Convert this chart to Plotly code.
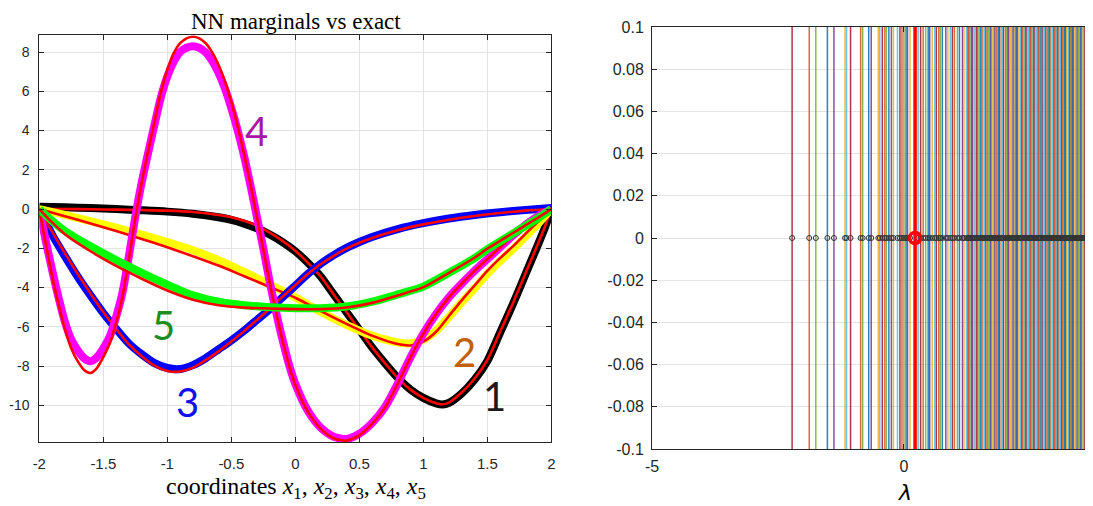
import plotly.graph_objects as go

# ---------------- left panel data ----------------
x1 = [-2.0, -1.8, -1.6, -1.4, -1.2, -1.0, -0.8, -0.6, -0.5, -0.4, -0.3, -0.2, -0.1, 0.0, 0.1, 0.2, 0.3, 0.4, 0.5,
      0.6, 0.7, 0.8, 0.9, 1.0, 1.1, 1.15, 1.2, 1.3, 1.4, 1.5, 1.6, 1.7, 1.8, 1.9, 1.95, 2.0]
nn1 = [0.12, 0.09, 0.05, 0.0, -0.06, -0.13, -0.24, -0.42, -0.55, -0.74, -0.98, -1.3, -1.68, -2.15, -2.75, -3.45,
       -4.35, -5.25, -6.15, -7.05, -7.85, -8.6, -9.2, -9.62, -9.9, -9.96, -9.88, -9.4, -8.7, -7.75, -6.3, -4.85,
       -3.3, -1.75, -0.95, 0.0]
ex1 = [0.0, 0.0, -0.01, -0.03, -0.05, -0.08, -0.15, -0.3, -0.42, -0.6, -0.85, -1.2, -1.62, -2.12, -2.75, -3.45,
       -4.35, -5.25, -6.15, -7.05, -7.85, -8.6, -9.2, -9.62, -9.9, -9.95, -9.86, -9.35, -8.65, -7.7, -6.25, -4.8,
       -3.25, -1.7, -0.9, 0.0]

x2 = [-2.0, -1.8, -1.6, -1.4, -1.2, -1.0, -0.8, -0.6, -0.4, -0.2, 0.0, 0.2, 0.4, 0.6, 0.8, 0.9, 1.0, 1.1, 1.2,
      1.3, 1.4, 1.5, 1.6, 1.7, 1.8, 1.9, 2.0]
nn2 = [0.0, -0.3, -0.62, -0.95, -1.3, -1.68, -2.1, -2.6, -3.2, -3.85, -4.5, -5.25, -5.9, -6.45, -6.8, -6.85, -6.65,
       -6.2, -5.5, -4.75, -4.05, -3.3, -2.65, -2.05, -1.4, -0.72, 0.0]
ex2 = [0.0, -0.36, -0.74, -1.12, -1.52, -1.95, -2.4, -2.88, -3.42, -3.97, -4.52, -5.2, -5.85, -6.45, -6.88, -6.95,
       -6.75, -6.25, -5.45, -4.65, -3.9, -3.15, -2.5, -1.9, -1.25, -0.62, 0.0]

x3 = [-2.0, -1.9, -1.8, -1.7, -1.6, -1.5, -1.4, -1.3, -1.2, -1.1, -1.0, -0.9, -0.8, -0.7, -0.6, -0.5, -0.4, -0.3,
      -0.2, -0.1, 0.0, 0.1, 0.2, 0.3, 0.4, 0.5, 0.6, 0.8, 1.0, 1.2, 1.4, 1.6, 1.8, 2.0]
nn3 = [0.0, -1.3, -2.4, -3.45, -4.4, -5.3, -6.1, -6.85, -7.4, -7.85, -8.1, -8.15, -7.95, -7.6, -7.15, -6.7, -6.2,
       -5.65, -5.1, -4.5, -3.9, -3.3, -2.78, -2.35, -1.98, -1.68, -1.42, -1.02, -0.72, -0.48, -0.3, -0.16, -0.05, 0.05]
ex3 = [0.0, -1.15, -2.25, -3.3, -4.3, -5.25, -6.1, -6.9, -7.5, -7.98, -8.25, -8.28, -8.08, -7.7, -7.25, -6.75,
       -6.22, -5.65, -5.08, -4.47, -3.88, -3.3, -2.8, -2.38, -2.02, -1.72, -1.47, -1.08, -0.78, -0.54, -0.35, -0.2,
       -0.08, 0.0]

x4 = [-2.0, -1.95, -1.9, -1.85, -1.8, -1.75, -1.7, -1.65, -1.6, -1.55, -1.5, -1.45, -1.4, -1.35, -1.3, -1.25, -1.2,
      -1.15, -1.1, -1.05, -1.0, -0.95, -0.9, -0.85, -0.8, -0.75, -0.7, -0.65, -0.6, -0.55, -0.5, -0.45, -0.4, -0.35,
      -0.3, -0.25, -0.2, -0.15, -0.1, -0.05, 0.0, 0.1, 0.2, 0.3, 0.4, 0.5, 0.6, 0.7, 0.8, 0.9, 1.0, 1.1, 1.2, 1.3,
      1.4, 1.5, 1.6, 1.7, 1.8, 1.9, 2.0]
nn4 = [0.0, -1.6, -3.1, -4.5, -5.75, -6.65, -7.2, -7.6, -7.75, -7.55, -7.1, -6.5, -5.5, -4.25, -2.4, -0.4, 1.35,
       2.85, 4.3, 5.7, 6.75, 7.5, 8.0, 8.22, 8.3, 8.22, 7.98, 7.55, 6.95, 6.15, 5.15, 4.0, 2.7, 1.2, -0.4, -2.0,
       -3.7, -5.25, -6.65, -7.9, -8.9, -10.3, -11.15, -11.6, -11.72, -11.45, -10.9, -10.1, -8.9, -7.55, -6.35, -5.35,
       -4.5, -3.8, -3.15, -2.55, -1.95, -1.35, -0.8, -0.35, 0.0]
ex4 = [0.0, -1.75, -3.4, -4.85, -6.1, -7.1, -7.75, -8.2, -8.35, -8.1, -7.55, -6.85, -5.8, -4.45, -2.55, -0.45, 1.35,
       2.95, 4.45, 5.95, 7.1, 7.95, 8.45, 8.7, 8.78, 8.7, 8.45, 8.0, 7.35, 6.5, 5.45, 4.2, 2.8, 1.25, -0.4, -2.05,
       -3.75, -5.3, -6.7, -7.95, -8.95, -10.35, -11.2, -11.68, -11.8, -11.52, -10.95, -10.12, -8.9, -7.55, -6.35,
       -5.35, -4.5, -3.8, -3.15, -2.55, -1.95, -1.35, -0.8, -0.35, 0.0]

x5 = [-2.0, -1.9, -1.8, -1.6, -1.4, -1.2, -1.0, -0.8, -0.6, -0.4, -0.2, 0.0, 0.2, 0.4, 0.6, 0.8, 1.0, 1.2, 1.4,
      1.5, 1.6, 1.7, 1.8, 1.9, 2.0]
nn5 = [0.0, -0.6, -1.12, -1.9, -2.6, -3.25, -3.85, -4.4, -4.72, -4.9, -5.0, -5.05, -5.05, -4.97, -4.72, -4.35, -3.95,
       -3.25, -2.5, -2.05, -1.65, -1.25, -0.85, -0.45, 0.0]
ex5 = [0.0, -0.68, -1.28, -2.15, -2.9, -3.55, -4.15, -4.62, -4.9, -5.02, -5.07, -5.1, -5.1, -5.02, -4.78, -4.4,
       -3.98, -3.25, -2.48, -2.02, -1.62, -1.22, -0.82, -0.42, 0.0]

curve_labels = ["1", "2", "3", "4", "5"]
label_x = [1.56, 1.32, -0.84, -0.30, -1.03]
label_y = [-9.55, -7.3, -9.85, 4.0, -5.9]

x_ticks = [-2, -1.5, -1, -0.5, 0, 0.5, 1, 1.5, 2]
x_tick_text = ["-2", "-1.5", "-1", "-0.5", "0", "0.5", "1", "1.5", "2"]
y_ticks = [-10, -8, -6, -4, -2, 0, 2, 4, 6, 8]
y_tick_text = ["-10", "-8", "-6", "-4", "-2", "0", "2", "4", "6", "8"]

# ---------------- right panel data ----------------
lam = [-2.22, -1.88, -1.75, -1.52, -1.39, -1.17, -1.14, -1.06, -0.86, -0.82, -0.70, -0.65, -0.51, -0.48, -0.43,
       -0.38, -0.35, -0.30, -0.25, -0.21, -0.13, -0.08, -0.04, 0.00, 0.04, 0.07, 0.12, 0.28, 0.33, 0.38, 0.43,
       0.48, 0.51, 0.56, 0.61, 0.64, 0.69, 0.72, 0.76, 0.83, 0.87, 0.92, 0.96, 1.00, 1.06, 1.10, 1.16, 1.19, 1.24,
       1.27, 1.29, 1.31, 1.34, 1.36, 1.39, 1.41, 1.44, 1.46, 1.49, 1.52, 1.55, 1.57, 1.60, 1.62, 1.65, 1.68, 1.71,
       1.73, 1.75, 1.78, 1.80, 1.83, 1.86, 1.88, 1.90, 1.93, 1.95, 1.97, 2.01, 2.03, 2.06, 2.08, 2.11, 2.14, 2.16,
       2.18, 2.21, 2.23, 2.25, 2.28, 2.31, 2.33, 2.35, 2.38, 2.41, 2.43, 2.45, 2.47, 2.50, 2.52, 2.54, 2.57, 2.59,
       2.61, 2.63, 2.66, 2.68, 2.70, 2.72, 2.75, 2.77, 2.79, 2.81, 2.84, 2.86, 2.88, 2.90, 2.92, 2.95, 2.97, 2.99,
       3.01, 3.04, 3.06, 3.08, 3.10, 3.12, 3.15, 3.17, 3.19, 3.21, 3.23, 3.26, 3.28, 3.30, 3.32, 3.34, 3.36, 3.39,
       3.41, 3.43, 3.45, 3.47, 3.50, 3.52, 3.54, 3.56, 3.58, 3.60, 3.63, 3.65, 3.67, 3.69, 3.71, 3.73, 3.75, 3.77,
       3.80, 3.82, 3.84, 3.86, 3.89, 3.91]
lam_sel = 0.22
r_y_ticks = [-0.1, -0.08, -0.06, -0.04, -0.02, 0, 0.02, 0.04, 0.06, 0.08, 0.1]
r_y_tick_text = ["-0.1", "-0.08", "-0.06", "-0.04", "-0.02", "0", "0.02", "0.04", "0.06", "0.08", "0.1"]
r_x_ticks = [-5, 0, 5]
r_x_tick_text = ["-5", "0", "5"]

# ---------------- styles ----------------
nn_colors = ["#000000", "#FFFF00", "#0000FF", "#FF00FF", "#00FF00"]
label_colors = ["#1a1a1a", "#C0600A", "#1010F0", "#A51AA5", "#1E8C1E"]
line_cycle = ["#A2142F", "#D95319", "#77AC30", "#0072BD", "#7E2F8E", "#EDB120", "#4DBEEE"]
AX = "#262626"
GRID = "#E3E3E3"
W, H = 1093, 506
OFF = 8  # page body margin in px


def px_x(p):
    return (p - OFF) / W


def px_y(p):
    return 1 - (p - OFF) / H


fig = go.Figure()

xs = [x1, x2, x3, x4, x5]
nns = [nn1, nn2, nn3, nn4, nn5]
exs = [ex1, ex2, ex3, ex4, ex5]
for k in range(5):
    fig.add_trace(go.Scatter(x=xs[k], y=nns[k], mode="lines", xaxis="x", yaxis="y",
                             line=dict(color=nn_colors[k], width=8, shape="spline", smoothing=0.7),
                             showlegend=False, hoverinfo="skip"))
    fig.add_trace(go.Scatter(x=xs[k], y=exs[k], mode="lines", xaxis="x", yaxis="y",
                             line=dict(color="#FF0000", width=2.6, shape="spline", smoothing=0.7),
                             showlegend=False, hoverinfo="skip"))

# right panel: vertical lines per colour group
for c in range(len(line_cycle)):
    vx, vy = [], []
    for i, l in enumerate(lam):
        if i % len(line_cycle) == c:
            vx += [l, l, None]
            vy += [r_y_ticks[0], r_y_ticks[-1], None]
    fig.add_trace(go.Scatter(x=vx, y=vy, mode="lines", xaxis="x2", yaxis="y2",
                             line=dict(color=line_cycle[c], width=1.5), opacity=0.85,
                             showlegend=False, hoverinfo="skip"))
fig.add_trace(go.Scatter(x=lam, y=[0] * len(lam), mode="markers", xaxis="x2", yaxis="y2",
                         marker=dict(symbol="circle-open", size=5, color="#333333", line=dict(width=1)),
                         showlegend=False, hoverinfo="skip"))
fig.add_trace(go.Scatter(x=[lam_sel, lam_sel], y=[r_y_ticks[0], r_y_ticks[-1]], mode="lines", xaxis="x2",
                         yaxis="y2", line=dict(color="#FF0000", width=3.5), showlegend=False, hoverinfo="skip"))
fig.add_trace(go.Scatter(x=[lam_sel], y=[0], mode="markers", xaxis="x2", yaxis="y2",
                         marker=dict(symbol="circle-open", size=11, color="#FF0000", line=dict(width=3.5)),
                         showlegend=False, hoverinfo="skip"))

annotations = []
for k in range(5):
    annotations.append(dict(x=label_x[k], y=label_y[k], xref="x", yref="y", text=curve_labels[k],
                            showarrow=False, font=dict(family="Lato, sans-serif", size=40, color=label_colors[k])))
annotations.append(dict(x=px_x(296), y=1.0, xref="paper", yref="paper", text="NN marginals vs exact",
                        showarrow=False, xanchor="center", yanchor="top", borderpad=0,
                        font=dict(family="Liberation Serif, serif", size=23, color="#000000")))
annotations.append(dict(x=px_x(296), y=px_y(488), xref="paper", yref="paper",
                        text="coordinates <i>x</i><sub>1</sub>, <i>x</i><sub>2</sub>, <i>x</i><sub>3</sub>, "
                             "<i>x</i><sub>4</sub>, <i>x</i><sub>5</sub>",
                        showarrow=False, xanchor="center", yanchor="middle",
                        font=dict(family="Liberation Serif, serif", size=24, color="#000000")))
annotations.append(dict(x=px_x(905), y=px_y(492), xref="paper", yref="paper", text="<i>λ</i>",
                        showarrow=False, xanchor="center", yanchor="middle",
                        font=dict(family="DejaVu Sans, sans-serif", size=22, color="#000000")))


def axis_style(size, standoff):
    return dict(showline=True, linecolor=AX, linewidth=1, mirror="ticks", ticks="inside", ticklen=5,
                tickcolor=AX, showgrid=True, gridcolor=GRID, gridwidth=1, zeroline=False, automargin=False,
                ticklabelstandoff=standoff,
                tickfont=dict(family="Liberation Sans, Arial, sans-serif", size=size, color=AX))


fig.update_layout(
    width=W, height=H, margin=dict(l=0, r=0, t=0, b=0),
    paper_bgcolor="white", plot_bgcolor="white", showlegend=False,
    xaxis=dict(domain=[px_x(39.3), px_x(551.3)], range=[-2, 2], tickvals=x_ticks, ticktext=x_tick_text,
               anchor="y", **axis_style(15, 8)),
    yaxis=dict(domain=[px_y(442), px_y(35)], range=[-11.87, 8.87], tickvals=y_ticks,
               ticktext=y_tick_text, anchor="x", **axis_style(14, 6)),
    xaxis2=dict(domain=[px_x(652), 1.0], range=[-5, 3.909], tickvals=r_x_ticks, ticktext=r_x_tick_text,
                anchor="y2", **axis_style(16, 3)),
    yaxis2=dict(domain=[px_y(449), px_y(27)], range=[-0.1, 0.1], tickvals=r_y_ticks,
                ticktext=r_y_tick_text, anchor="x2", **axis_style(16, 4)),
    annotations=annotations,
)

fig.write_html("out.html")
